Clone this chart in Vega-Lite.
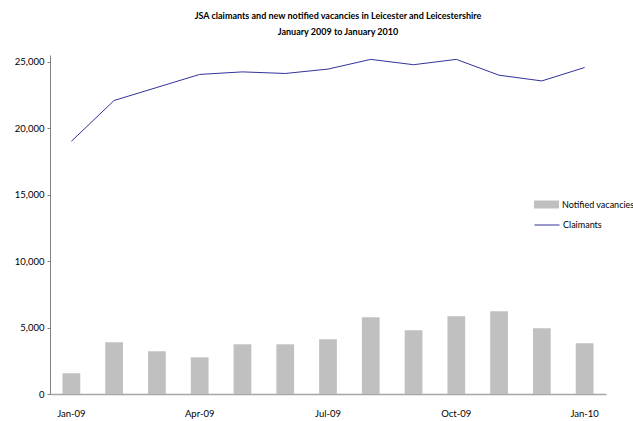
{
  "$schema": "https://vega.github.io/schema/vega-lite/v6.json",
  "autosize": "none",
  "width": 556,
  "height": 339,
  "padding": {"left": 50, "top": 55, "right": 27, "bottom": 27},
  "background": "white",
  "config": {
    "view": {"stroke": null},
    "font": "Lato"
  },
  "title": {
    "text": ["JSA claimants and new notified vacancies in Leicester and Leicestershire", "January 2009 to January 2010"],
    "font": "Lato",
    "fontSize": 9,
    "fontWeight": "bold",
    "color": "#000000",
    "anchor": "middle",
    "lineHeight": 16,
    "offset": 18,
    "dx": 10
  },
  "data": {
    "values": [
      {"month": "Jan-09", "vacancies": 1560, "claimants": 19010},
      {"month": "Feb-09", "vacancies": 3890, "claimants": 22080},
      {"month": "Mar-09", "vacancies": 3215, "claimants": 23060},
      {"month": "Apr-09", "vacancies": 2760, "claimants": 24040},
      {"month": "May-09", "vacancies": 3740, "claimants": 24230},
      {"month": "Jun-09", "vacancies": 3740, "claimants": 24110},
      {"month": "Jul-09", "vacancies": 4120, "claimants": 24440},
      {"month": "Aug-09", "vacancies": 5775, "claimants": 25170},
      {"month": "Sep-09", "vacancies": 4800, "claimants": 24770},
      {"month": "Oct-09", "vacancies": 5850, "claimants": 25170},
      {"month": "Nov-09", "vacancies": 6230, "claimants": 23980},
      {"month": "Dec-09", "vacancies": 4950, "claimants": 23550},
      {"month": "Jan-10", "vacancies": 3820, "claimants": 24560}
    ]
  },
  "encoding": {
    "x": {
      "field": "month",
      "type": "ordinal",
      "sort": null,
      "scale": {"paddingInner": 0.585, "paddingOuter": 0.2925},
      "axis": {
        "title": null,
        "values": ["Jan-09", "Apr-09", "Jul-09", "Oct-09", "Jan-10"],
        "labelAngle": 0,
        "ticks": false,
        "labelPadding": 14,
        "labelFont": "Lato",
        "labelFontSize": 9.5,
        "labelColor": "#000000",
        "domainColor": "#a6a6a6",
        "domainWidth": 1.5
      }
    }
  },
  "layer": [
    {
      "mark": {"type": "bar", "color": "#c0c0c0"},
      "encoding": {
        "y": {
          "field": "vacancies",
          "type": "quantitative",
          "scale": {"domain": [0, 25500], "nice": false},
          "axis": {
            "title": null,
            "values": [0, 5000, 10000, 15000, 20000, 25000],
            "format": ",.0f",
            "grid": false,
            "tickSize": 3,
            "tickColor": "#808080",
            "domainColor": "#808080",
            "labelPadding": 3,
            "labelFont": "Lato",
            "labelFontSize": 9.5,
            "labelColor": "#000000"
          }
        },
        "fill": {
          "datum": "Notified vacancies",
          "scale": {"domain": ["Notified vacancies"], "range": ["#c0c0c0"]},
          "legend": {
            "title": null,
            "orient": "none",
            "legendX": 484,
            "legendY": 137,
            "padding": 0,
            "symbolType": "M-1,-0.32H1V0.32H-1Z",
            "symbolSize": 625,
            "symbolStrokeWidth": 0,
            "labelFont": "Lato",
            "labelFontSize": 9,
            "labelColor": "#000000",
            "labelOffset": 3
          }
        }
      }
    },
    {
      "mark": {"type": "line", "strokeWidth": 1},
      "encoding": {
        "y": {"field": "claimants", "type": "quantitative"},
        "stroke": {
          "datum": "Claimants",
          "scale": {"domain": ["Claimants"], "range": ["#333399"]},
          "legend": {
            "title": null,
            "orient": "none",
            "legendX": 484,
            "legendY": 157,
            "padding": 0,
            "symbolType": "stroke",
            "symbolSize": 625,
            "symbolStrokeWidth": 1,
            "labelFont": "Lato",
            "labelFontSize": 9,
            "labelColor": "#000000",
            "labelOffset": 3
          }
        }
      }
    }
  ]
}
